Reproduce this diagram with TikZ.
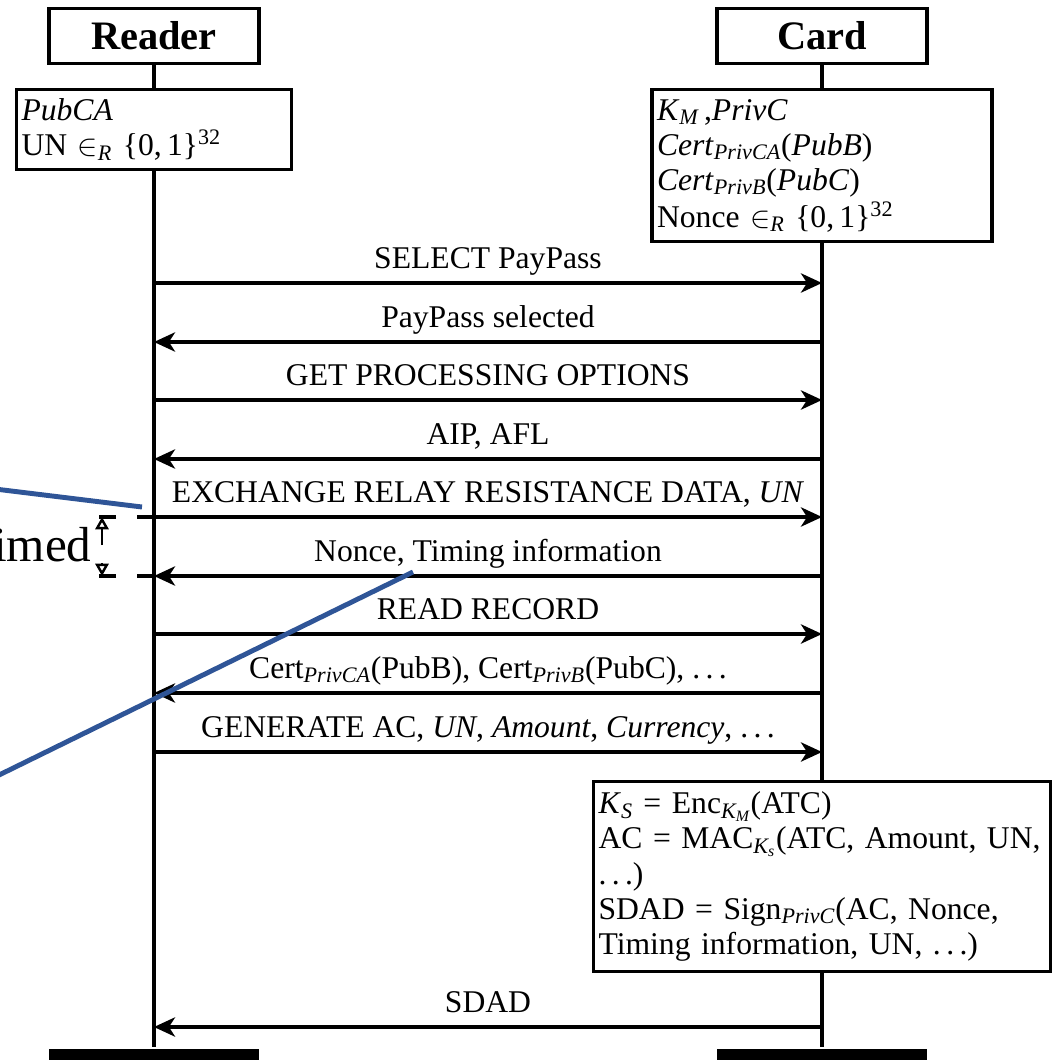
\documentclass[tikz,border=0pt]{standalone}
\usepackage{amsmath}
\usepackage{fontspec}
\setmainfont{Liberation Serif}
\usetikzlibrary{arrows.meta}

\definecolor{zoomblue}{RGB}{47,85,151}
\newcommand{\mdots}{.\kern.17em.\kern.17em.}

\begin{document}
\begin{tikzpicture}[x=0.02cm, y=-0.02cm, line width=1.8pt,
  font=\fontsize{18}{20}\selectfont,
  actor/.style={draw, anchor=north, minimum width=4.2cm, minimum height=1.1cm,
    inner sep=0pt, font=\fontsize{23}{26}\selectfont\bfseries},
  databox/.style={draw, anchor=north, align=left, inner xsep=0.1cm, inner ysep=2pt},
  endbar/.style={fill, anchor=north, minimum width=4.2cm, minimum height=0.4cm, inner sep=0pt},
  msg/.style={-{Stealth[length=12pt, width=11pt, inset=3.5pt]}},
  lbl/.style={anchor=base, yshift=0.3cm, inner sep=0pt},
  tick/.style={dash pattern=on 9.6pt off 11.9pt},
  meas/.style={line width=1.4pt, -{Triangle[open, length=7pt, width=7.5pt]}}]
\useasboundingbox (0,0) rectangle (1051,1060);

% instances
\path (154,7) node[actor] (rhead) {Reader};
\path (822,7) node[actor] (chead) {Card};

% initial knowledge
\path (154,88) node[databox, text width=5.3cm, minimum height=1.6cm] (rinit)
  {\textit{PubCA}\\
   UN $\in_{\textit{R}}$ \{0,\,1\}$^{\text{32}}$};
\path (822,88) node[databox, text width=6.6cm, minimum height=3.04cm] (cinit)
  {\textit{K}$_{\textit{M}}$\,,\textit{PrivC}\\
   \textit{Cert}$_{\textit{PrivCA}}$(\textit{PubB})\\
   \textit{Cert}$_{\textit{PrivB}}$(\textit{PubC})\\[1pt]
   Nonce $\in_{\textit{R}}$ \{0,\,1\}$^{\text{32}}$};

% card computes the cryptogram
\path (822,780) node[databox, text width=8.94cm, minimum height=3.8cm] (cact)
  {\textit{K}$_{\textit{S}}$ = Enc$_{\textit{K}_{\textit{M}}}$(ATC)\\
   AC = MAC$_{\textit{K}_{\textit{s}}}$(ATC, Amount, UN,\\
   \mdots)\\
   SDAD = Sign$_{\textit{PrivC}}$(AC, Nonce,\\
   Timing information, UN, \mdots)};

% end of instances
\path (154,1047) node[endbar] (rend) {};
\path (822,1047) node[endbar] (cend) {};

% lifelines
\draw (rhead) -- (rinit) -- (rend);
\draw (chead) -- (cinit) -- (cact) -- (cend);

% message levels
\foreach \y [count=\i] in {283,342,400,459,517,576,634,693,752,1027} {
  \coordinate (r\i) at (154,\y);
  \coordinate (c\i) at (822,\y);
}

\draw[msg] (r1) -- node[lbl] {SELECT PayPass} (c1);
\draw[msg] (c2) -- node[lbl] {PayPass selected} (r2);
\draw[msg] (r3) -- node[lbl] {GET PROCESSING OPTIONS} (c3);
\draw[msg] (c4) -- node[lbl] {AIP, AFL} (r4);
\draw[msg] (r5) -- node[lbl] {EXCHANGE RELAY RESISTANCE DATA, \textit{UN}} (c5);
\draw[msg] (c6) -- node[lbl] {Nonce, Timing information} (r6);
\draw[msg] (r7) -- node[lbl] {READ RECORD} (c7);
\draw[msg] (c8) -- node[lbl] {Cert$_{\textit{PrivCA}}$(PubB), Cert$_{\textit{PrivB}}$(PubC), \mdots} (r8);
\draw[msg] (r9) -- node[lbl] {GENERATE AC, \textit{UN}, \textit{Amount}, \textit{Currency}, \mdots} (c9);
\draw[msg] (c10) -- node[lbl] {SDAD} (r10);

% timed exchange
\coordinate (t1) at (97,517);
\coordinate (t2) at (97,576);
\draw[tick] (r5) -- (t1);
\draw[tick] (r6) -- (t2);
\coordinate (tu) at (102,545);
\coordinate (td) at (102,563);
\draw[meas] (tu) -- (tu |- t1);
\draw[meas] (td) -- (td |- t2);
\path (93,561) node[anchor=base east, inner sep=0pt, font=\fontsize{28}{30}\selectfont] (tmd) {timed};

% zoom lines
\coordinate (b1) at (-5,489);
\coordinate (b2) at (142,507);
\coordinate (b3) at (413,572);
\coordinate (b4) at (-5,777);
\draw[zoomblue, line width=2.8pt] (b1) -- (b2);
\draw[zoomblue, line width=2.8pt] (b3) -- (b4);
\end{tikzpicture}
\end{document}
